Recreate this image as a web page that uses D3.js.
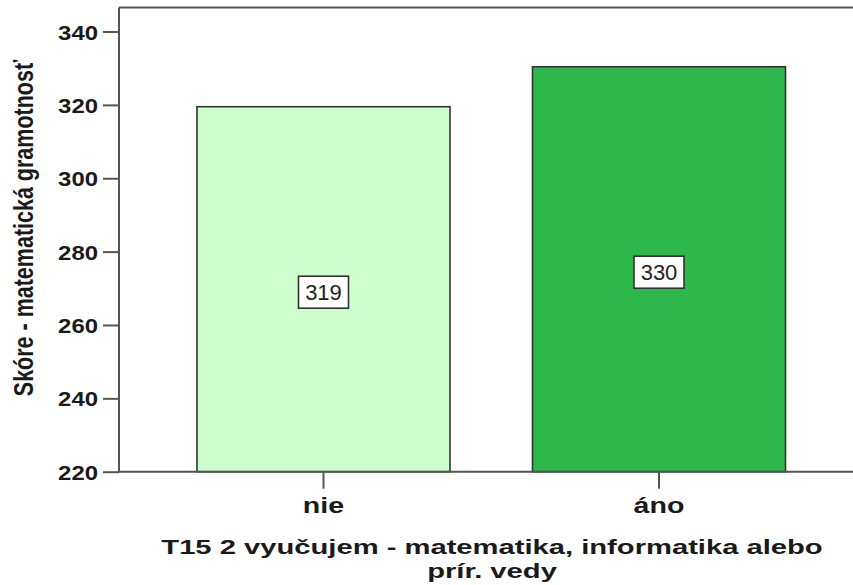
<!DOCTYPE html>
<html>
<head>
<meta charset="utf-8">
<script src="https://cdn.jsdelivr.net/npm/d3@7/dist/d3.min.js"></script>
<style>
  html, body { margin: 0; padding: 0; background: #fff; }
  svg { display: block; }
  text { font-family: "Liberation Sans", Arial, sans-serif; }
</style>
</head>
<body>
<svg id="chart" width="853" height="585"></svg>
<script>
// ---- data ----
const categories = ["nie", "áno"];
const values = [319.5, 330.4];
const valueLabels = ["319", "330"];
const barColors = ["#ccffcc", "#2eb84b"];
const yTicks = [220, 240, 260, 280, 300, 320, 340];
const yDomain = [220, 346.55];
const yTitle = "Skóre - matematická gramotnosť";
const xTitleLines = ["T15 2 vyučujem - matematika, informatika alebo", "prír. vedy"];

// ---- layout ----
const W = 853, H = 585;
const plotLeft = 119, plotTop = 7.5, plotBottom = 471.7, rightRange = 863.5;
const svg = d3.select("#chart");

const y = d3.scaleLinear().domain(yDomain).range([plotBottom, plotTop]);
const x = d3.scaleBand().domain(categories).range([plotLeft, rightRange])
  .paddingInner(0.246).paddingOuter(0.2325);

const axisColor = "#555";

// bars
svg.append("g").selectAll("rect").data(categories).join("rect")
  .attr("x", d => x(d))
  .attr("width", x.bandwidth())
  .attr("y", (d, i) => y(values[i]))
  .attr("height", (d, i) => y(yDomain[0]) - y(values[i]))
  .attr("fill", (d, i) => barColors[i])
  .attr("stroke", "#333")
  .attr("stroke-width", 1.6);

// frame top line
svg.append("line").attr("x1", plotLeft).attr("x2", W).attr("y1", plotTop).attr("y2", plotTop)
  .attr("stroke", axisColor).attr("stroke-width", 2);

// y axis
const yAxis = svg.append("g").attr("transform", `translate(${plotLeft},0)`)
  .call(d3.axisLeft(y).tickValues(yTicks).tickSize(16).tickPadding(5).tickFormat(d3.format("d")));
yAxis.select(".domain").remove();
yAxis.append("line").attr("x1", 0).attr("x2", 0).attr("y1", plotTop).attr("y2", plotBottom)
  .attr("stroke", axisColor).attr("stroke-width", 2);
yAxis.selectAll(".tick line").attr("stroke", axisColor).attr("stroke-width", 2);
yAxis.selectAll(".tick text")
  .attr("fill", "#1a1a1a")
  .style("font-size", "21px").style("font-weight", "bold")
  .attr("dy", "0.36em")
  .each(function() {
    const t = d3.select(this);
    const xx = +t.attr("x");
    t.attr("x", null).attr("transform", `translate(${xx},0) scale(1.14,1)`);
  });

// x axis
const xAxis = svg.append("g").attr("transform", `translate(0,${plotBottom})`)
  .call(d3.axisBottom(x).tickSize(17).tickPadding(0));
xAxis.select(".domain").remove();
xAxis.append("line").attr("x1", plotLeft).attr("x2", W).attr("y1", 0).attr("y2", 0)
  .attr("stroke", axisColor).attr("stroke-width", 2);
xAxis.selectAll(".tick line").attr("stroke", axisColor).attr("stroke-width", 2);
xAxis.selectAll(".tick text")
  .attr("fill", "#1a1a1a")
  .attr("y", null).attr("dy", null)
  .style("font-size", "22px").style("font-weight", "bold")
  .attr("transform", "translate(0,41) scale(1.3,1)");

// value labels in boxes
const lab = svg.append("g").selectAll("g").data(categories).join("g")
  .attr("transform", (d, i) => `translate(${x(d) + x.bandwidth() / 2},${y((yDomain[0] + values[i]) / 2) + 3})`);
lab.append("rect")
  .attr("x", -25).attr("y", -16).attr("width", 50).attr("height", 32)
  .attr("fill", "#fff").attr("stroke", "#333").attr("stroke-width", 1.6);
lab.append("text")
  .attr("text-anchor", "middle").attr("dy", "0.36em")
  .style("font-size", "22px").attr("fill", "#222")
  .text((d, i) => valueLabels[i]);

// y title
svg.append("text")
  .attr("transform", `translate(33,228) scale(1.28,1) rotate(-90)`)
  .attr("text-anchor", "middle")
  .style("font-size", "21.5px").style("font-weight", "bold").attr("fill", "#1a1a1a")
  .text(yTitle);

// x title (two lines)
svg.append("g").selectAll("text").data(xTitleLines).join("text")
  .attr("transform", (d, i) => `translate(492,${554 + i * 24}) scale(1.39,1)`)
  .attr("text-anchor", "middle")
  .style("font-size", "21px").style("font-weight", "bold").attr("fill", "#1a1a1a")
  .text(d => d);
</script>
</body>
</html>
